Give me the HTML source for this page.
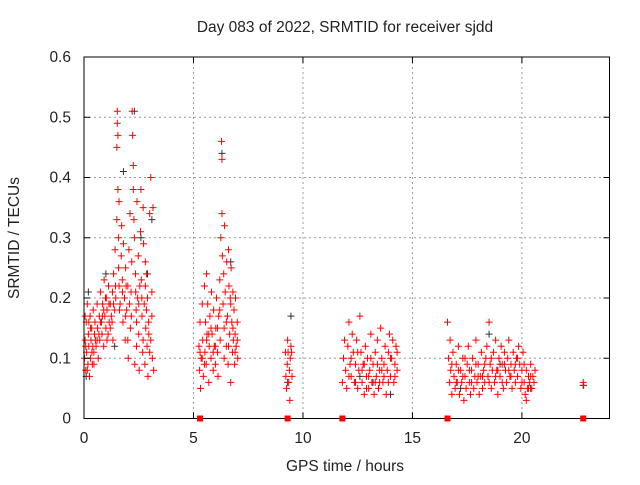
<!DOCTYPE html>
<html><head><meta charset="utf-8"><style>
body{margin:0;background:#fff}
svg text{font-family:"Liberation Sans",sans-serif;font-size:15.5px;fill:#222}
</style></head><body>
<svg id="chart" width="640" height="480" xmlns="http://www.w3.org/2000/svg">
<text x="345" y="32" text-anchor="middle">Day 083 of 2022, SRMTID for receiver sjdd</text>
<text x="19" y="238" text-anchor="middle" transform="rotate(-90 19 238)">SRMTID / TECUs</text>
<text x="345" y="471" text-anchor="middle">GPS time / hours</text>
<g id="grid"></g><g id="blk"></g><g id="red"></g><g id="axes"></g>
</svg>
<script>
const xTicks=[0,5,10,15,20];
const yTicks=[0,0.1,0.2,0.3,0.4,0.5,0.6];
const yTickLabels=["0","0.1","0.2","0.3","0.4","0.5","0.6"];
const gapMarks=[5.3,9.3,11.8,16.6,22.8];
const blackPts=[[0.2,.21],[0.1,.07],[1.0,.24],[1.4,.12],[1.8,.41],[2.3,.51],[2.6,.30],[2.9,.24],[3.1,.33],[6.3,.44],[6.7,.26],[9.45,.17],[9.3,.06],[12.6,.07],[13.2,.06],[14.0,.04],[17.2,.05],[18.5,.14],[19,.09],[20.4,.05],[22.8,.055]];
const redPts=[[0.02,.10],[0.05,.13],[0.08,.08],[0.1,.16],[0.12,.11],[0.15,.19],[0.18,.09],[0.2,.14],[0.22,.12],[0.25,.07],[0.28,.17],[0.3,.10],[0.32,.13],[0.35,.15],[0.38,.09],[0.4,.12],[0.42,.18],[0.45,.11],[0.48,.14],[0.5,.16],
[0.55,.12],[0.6,.19],[0.62,.15],[0.65,.10],[0.7,.17],[0.72,.13],[0.75,.21],[0.8,.16],[0.82,.14],[0.85,.19],[0.9,.12],[0.92,.23],[0.95,.17],[1.0,.15],[1.02,.20],[1.05,.18],[1.1,.14],[1.12,.22],[1.15,.16],[1.2,.19],
[1.25,.17],[1.3,.21],[1.32,.13],[1.35,.24],[1.4,.18],[1.42,.28],[1.45,.20],[1.5,.33],[1.5,.45],[1.52,.49],[1.52,.51],[1.55,.47],[1.55,.38],[1.57,.30],[1.58,.25],[1.6,.22],[1.6,.36],
[1.65,.19],[1.7,.27],[1.72,.32],[1.75,.23],[1.78,.16],[1.8,.29],[1.85,.20],[1.88,.13],[1.9,.25],[1.95,.18],[2.0,.22],[2.02,.10],[2.05,.28],[2.1,.34],[2.12,.15],[2.15,.21],[2.18,.26],
[2.2,.51],[2.22,.47],[2.25,.38],[2.25,.42],[2.28,.33],[2.3,.30],[2.32,.09],[2.35,.24],[2.38,.18],[2.4,.12],[2.42,.36],[2.45,.20],[2.48,.27],[2.5,.14],[2.52,.08],[2.55,.22],[2.58,.31],
[2.6,.38],[2.62,.23],[2.65,.17],[2.68,.11],[2.7,.35],[2.72,.29],[2.75,.19],[2.78,.09],[2.8,.26],[2.82,.15],[2.85,.24],[2.88,.12],[2.9,.20],[2.92,.07],[2.95,.16],[3.0,.34],[3.05,.40],[3.05,.13],[3.1,.21],[3.12,.10],[3.15,.35],[3.18,.08],
[0.05,.17],[0.15,.08],[0.3,.15],[0.45,.09],[0.6,.13],[0.75,.16],[0.9,.18],[1.05,.13],[1.2,.15],[1.35,.19],[1.9,.17],[2.0,.13],[2.4,.16],[2.7,.13],[2.85,.18],[3.0,.11],
[0.08,.12],[0.22,.16],[0.36,.11],[0.52,.13],[0.68,.14],[0.84,.17],[0.98,.20],[1.14,.19],[1.28,.16],[1.44,.22],[1.62,.18],[1.76,.21],[1.92,.22],[2.08,.19],[2.16,.17],[2.36,.21],[2.5,.19],[2.64,.20],[2.8,.22],[2.96,.14],[3.1,.17],
[5.25,.12],[5.28,.08],[5.3,.16],[5.32,.05],[5.35,.10],[5.4,.19],[5.42,.13],[5.45,.07],[5.5,.22],[5.52,.11],[5.55,.16],[5.58,.09],[5.6,.24],[5.62,.14],[5.65,.19],[5.7,.06],[5.72,.12],[5.75,.17],[5.8,.10],[5.82,.21],[5.85,.14],[5.9,.08],[5.92,.18],[5.95,.12],[6.0,.09],[6.02,.15],[6.05,.20],[6.1,.11],[6.12,.07],[6.15,.17],[6.2,.23],[6.22,.13],[6.25,.30],[6.28,.46],[6.3,.43],[6.3,.34],[6.32,.27],[6.35,.19],[6.38,.24],[6.4,.15],[6.42,.32],[6.45,.21],[6.5,.12],[6.52,.26],[6.55,.17],[6.58,.09],[6.6,.28],[6.62,.22],[6.65,.14],[6.68,.20],[6.7,.06],[6.72,.25],[6.75,.16],[6.78,.11],[6.8,.21],[6.82,.13],[6.85,.18],[6.88,.09],[6.9,.14],[6.92,.20],[6.95,.12],[7.0,.16],[7.02,.10],
[5.4,.10],[5.6,.13],[5.8,.15],[6.0,.12],[6.2,.18],[6.5,.16],[6.7,.19],[6.9,.11],[5.3,.11],[5.5,.09],[5.7,.14],[5.9,.11],[6.1,.15],[6.4,.10],[6.6,.12],[6.8,.15],[7.0,.13],
[9.2,.11],[9.22,.07],[9.25,.05],[9.28,.09],[9.3,.13],[9.32,.11],[9.35,.06],[9.38,.08],[9.4,.03],[9.42,.10],[9.45,.12],[9.48,.11],[9.5,.07],
[11.8,.06],[11.85,.10],[11.9,.13],[11.95,.08],[12.0,.05],[12.05,.12],[12.1,.16],[12.15,.09],[12.2,.07],[12.25,.14],[12.3,.11],[12.35,.06],[12.4,.09],[12.45,.13],[12.5,.05],[12.55,.08],[12.6,.17],[12.65,.11],[12.7,.06],[12.75,.09],[12.8,.04],[12.85,.12],[12.9,.07],[12.95,.10],[13.0,.05],[13.05,.08],[13.1,.14],[13.15,.06],[13.2,.09],[13.25,.04],[13.3,.11],[13.35,.07],[13.4,.13],[13.45,.05],[13.5,.08],[13.55,.15],[13.6,.10],[13.65,.06],[13.7,.09],[13.75,.12],[13.8,.04],[13.85,.08],[13.9,.11],[13.95,.14],[14.0,.07],[14.05,.10],[14.1,.13],[14.15,.06],[14.2,.09],[14.25,.12],[14.3,.08],
[12.1,.07],[12.4,.06],[12.7,.08],[13.0,.07],[13.3,.06],[13.6,.08],[13.9,.06],[14.2,.07],[12.9,.05],[13.5,.06],
[12.2,.10],[12.5,.11],[12.8,.09],[13.1,.10],[13.4,.09],[13.7,.07],[14.0,.10],[14.3,.11],
[16.6,.16],[16.65,.10],[16.7,.06],[16.72,.13],[16.75,.08],[16.8,.04],[16.85,.11],[16.9,.07],[16.95,.05],[17.0,.09],[17.05,.06],[17.1,.12],[17.15,.04],[17.2,.08],[17.25,.06],[17.3,.10],[17.35,.03],[17.4,.07],[17.45,.05],[17.5,.09],[17.55,.12],[17.6,.06],[17.65,.04],[17.7,.08],[17.75,.10],[17.8,.05],[17.85,.07],[17.9,.13],[17.95,.06],[18.0,.09],[18.05,.04],[18.1,.07],[18.15,.11],[18.2,.05],[18.25,.08],[18.3,.06],[18.35,.10],[18.4,.12],[18.45,.07],[18.5,.16],[18.55,.09],[18.6,.05],[18.65,.08],[18.7,.11],[18.75,.06],[18.8,.13],[18.85,.08],[18.9,.04],[18.95,.10],[19.0,.07],[19.05,.12],[19.1,.09],[19.15,.05],[19.2,.11],[19.25,.08],[19.3,.06],[19.35,.10],[19.4,.13],[19.45,.07],[19.5,.09],[19.55,.05],[19.6,.11],[19.65,.08],[19.7,.06],[19.75,.10],[19.8,.07],[19.85,.12],[19.9,.09],[19.95,.05],[20.0,.08],[20.05,.11],[20.1,.06],[20.15,.04],[20.2,.08],[20.25,.05],[20.3,.07],[20.35,.06],[20.4,.09],[20.45,.05],[20.5,.07],[20.55,.06],[20.6,.08],
[17.0,.06],[17.3,.07],[17.6,.08],[17.9,.09],[18.2,.07],[18.5,.06],[18.8,.07],[19.1,.06],[19.4,.08],[19.7,.09],[20.0,.06],[20.3,.05],
[16.8,.09],[17.1,.08],[17.4,.10],[17.7,.06],[18.0,.07],[18.3,.09],[18.6,.10],[18.9,.08],[19.2,.09],[19.5,.07],[19.8,.10],[20.1,.09],[20.4,.07],[20.2,.03],
[22.8,.06],[22.82,.055]];
const NS="http://www.w3.org/2000/svg";
const L=84,R=609.5,T=57,B=418.5;
const xs=h=>L+h/24*(R-L), ys=v=>B-v/0.6*(B-T);
function mk(tag,attrs,parent){const e=document.createElementNS(NS,tag);for(const k in attrs)e.setAttribute(k,attrs[k]);parent.appendChild(e);return e;}
const grid=document.getElementById('grid'),axes=document.getElementById('axes');
xTicks.forEach(t=>{const x=xs(t);
 if(t>0){const g=mk('line',{x1:x,x2:x,y1:T,y2:B,stroke:'#999','stroke-dasharray':'2,3'},grid);
 
 }
 mk('line',{x1:x,x2:x,y1:B,y2:B-6,stroke:'#000'},axes);mk('line',{x1:x,x2:x,y1:T,y2:T+6,stroke:'#000'},axes);
 const tx=mk('text',{x:x,y:443,'text-anchor':'middle'},axes);tx.textContent=t;
 
 });
yTicks.forEach((t,i)=>{const y=ys(t);
 if(t>0&&t<0.6){const g=mk('line',{x1:L,x2:R,y1:y,y2:y,stroke:'#999','stroke-dasharray':'2,3'},grid);
 
 }
 mk('line',{x1:L,x2:L+6,y1:y,y2:y,stroke:'#000'},axes);mk('line',{x1:R,x2:R-6,y1:y,y2:y,stroke:'#000'},axes);
 const tx=mk('text',{x:71,y:y+5,'text-anchor':'end'},axes);tx.textContent=yTickLabels[i];
 
 });
const fr=mk('rect',{x:L,y:T,width:R-L,height:B-T,fill:'none',stroke:'#000'},axes);


function plus(arr,col,g,name){let d='';arr.forEach(p=>{const x=xs(p[0]),y=ys(p[1]);d+=`M${x-3.5},${y}h7M${x},${y-3.5}v7`;});
 const e=mk('path',{d:d,stroke:col,'stroke-width':1,fill:'none'},document.getElementById(g));
 
 }
plus(blackPts,'#333','blk','black-points');
plus(redPts,'#f00','red','srmtid-points');
gapMarks.forEach(h=>{const s=mk('rect',{x:xs(h)-3,y:B-3,width:6,height:6,fill:'#f00'},axes);
 
 });
</script>
</body></html>
